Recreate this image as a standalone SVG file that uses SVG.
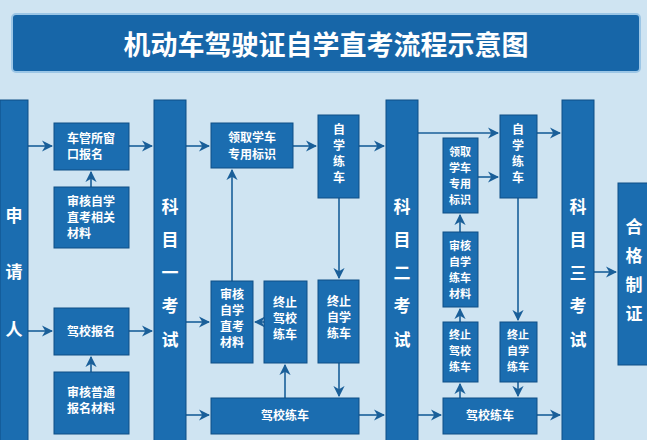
<svg xmlns="http://www.w3.org/2000/svg" width="647" height="440" viewBox="0 0 647 440">
<defs>
<style>
.b{fill:#1b6db0;stroke:#0f4f86;stroke-width:1}
.t{fill:#fff;font-family:"Noto Sans CJK SC",sans-serif;font-weight:bold;font-size:12px;text-anchor:middle}
.s{fill:#fff;font-family:"Noto Sans CJK SC",sans-serif;font-weight:bold;font-size:11px;text-anchor:middle}
.v{fill:#fff;font-family:"Noto Sans CJK SC",sans-serif;font-weight:bold;font-size:17px;text-anchor:middle}
#c path{stroke:#1a5f99;stroke-width:1.6;fill:none;marker-end:url(#a)}
</style>
<marker id="a" viewBox="0 0 10 10" refX="9" refY="5" markerWidth="7" markerHeight="7" orient="auto"><path d="M0,0L10,5L0,10L3,5Z" fill="#1a5f99"/></marker>
</defs>
<rect width="647" height="440" fill="#cfe4f2"/>
<g id="title"><rect x="12" y="14" width="628" height="58" rx="4" fill="#1766a8" stroke="#9cc6e6" stroke-width="2"/>
<text x="326" y="55" fill="#fff" font-family="Noto Sans CJK SC,sans-serif" font-weight="bold" font-size="27" text-anchor="middle">机动车驾驶证自学直考流程示意图</text></g>
<g id="c">
<path d="M28,146H52"/><path d="M129,146H152"/><path d="M28,331H52"/><path d="M129,331H152"/>
<path d="M91,187V172"/><path d="M91,372V357"/>
<path d="M186,146H209"/><path d="M293,146H316"/><path d="M359,146H384"/>
<path d="M186,322H209"/><path d="M232,281V170"/><path d="M264,322H255"/><path d="M285,398V365"/>
<path d="M186,415H209"/><path d="M339,198V278"/><path d="M339,363V396"/><path d="M359,415H384"/>
<path d="M418,133H498"/><path d="M478,177H498"/><path d="M460,232V215"/><path d="M460,322V309"/><path d="M460,398V384"/>
<path d="M418,415H441"/><path d="M537,133H560"/><path d="M518,198V320"/><path d="M518,382V396"/><path d="M537,415H560"/>
<path d="M594,272H616"/>
</g>
<g id="n1"><rect class="b" x="0" y="100" width="28" height="345"/><text class="v" x="14" y="222">申</text><text class="v" x="14" y="278">请</text><text class="v" x="14" y="336">人</text></g>
<g id="n2"><rect class="b" x="54" y="123" width="75" height="47"/><text class="t" x="91" y="143">车管所窗</text><text class="t" x="85" y="159">口报名</text></g>
<g id="n3"><rect class="b" x="54" y="187" width="75" height="61"/><text class="t" x="91" y="206">审核自学</text><text class="t" x="91" y="222">直考相关</text><text class="t" x="79" y="238">材料</text></g>
<g id="n4"><rect class="b" x="54" y="308" width="75" height="47"/><text class="t" x="91" y="336">驾校报名</text></g>
<g id="n5"><rect class="b" x="54" y="372" width="75" height="62"/><text class="t" x="91" y="397">审核普通</text><text class="t" x="91" y="413">报名材料</text></g>
<g id="n6"><rect class="b" x="154" y="100" width="32" height="345"/><text class="v" x="170" y="213">科</text><text class="v" x="170" y="246">目</text><text class="v" x="170" y="279">一</text><text class="v" x="170" y="312">考</text><text class="v" x="170" y="346">试</text></g>
<g id="n7"><rect class="b" x="211" y="123" width="82" height="45"/><text class="t" x="252" y="142">领取学车</text><text class="t" x="252" y="159">专用标识</text></g>
<g id="n8"><rect class="b" x="211" y="281" width="42" height="82"/><text class="t" x="232" y="299">审核</text><text class="t" x="232" y="315">自学</text><text class="t" x="232" y="331">直考</text><text class="t" x="232" y="347">材料</text></g>
<g id="n9"><rect class="b" x="264" y="281" width="43" height="82"/><text class="t" x="285" y="307">终止</text><text class="t" x="285" y="323">驾校</text><text class="t" x="285" y="339">练车</text></g>
<g id="n10"><rect class="b" x="318" y="115" width="41" height="83"/><text class="t" x="339" y="134">自</text><text class="t" x="339" y="150">学</text><text class="t" x="339" y="166">练</text><text class="t" x="339" y="182">车</text></g>
<g id="n11"><rect class="b" x="318" y="280" width="41" height="83"/><text class="t" x="339" y="306">终止</text><text class="t" x="339" y="322">自学</text><text class="t" x="339" y="338">练车</text></g>
<g id="n12"><rect class="b" x="211" y="398" width="148" height="36"/><text class="t" x="285" y="420">驾校练车</text></g>
<g id="n13"><rect class="b" x="386" y="100" width="32" height="345"/><text class="v" x="402" y="213">科</text><text class="v" x="402" y="246">目</text><text class="v" x="402" y="279">二</text><text class="v" x="402" y="312">考</text><text class="v" x="402" y="346">试</text></g>
<g id="n14"><rect class="b" x="443" y="138" width="35" height="75"/><text class="s" x="460" y="156">领取</text><text class="s" x="460" y="172">学车</text><text class="s" x="460" y="188">专用</text><text class="s" x="460" y="204">标识</text></g>
<g id="n15"><rect class="b" x="443" y="232" width="35" height="75"/><text class="s" x="460" y="250">审核</text><text class="s" x="460" y="266">自学</text><text class="s" x="460" y="282">练车</text><text class="s" x="460" y="298">材料</text></g>
<g id="n16"><rect class="b" x="443" y="322" width="35" height="60"/><text class="s" x="460" y="339">终止</text><text class="s" x="460" y="355">驾校</text><text class="s" x="460" y="371">练车</text></g>
<g id="n17"><rect class="b" x="500" y="115" width="37" height="83"/><text class="t" x="518" y="134">自</text><text class="t" x="518" y="150">学</text><text class="t" x="518" y="166">练</text><text class="t" x="518" y="182">车</text></g>
<g id="n18"><rect class="b" x="500" y="322" width="37" height="60"/><text class="s" x="518" y="339">终止</text><text class="s" x="518" y="355">自学</text><text class="s" x="518" y="371">练车</text></g>
<g id="n19"><rect class="b" x="443" y="398" width="94" height="36"/><text class="t" x="490" y="420">驾校练车</text></g>
<g id="n20"><rect class="b" x="562" y="100" width="32" height="345"/><text class="v" x="578" y="213">科</text><text class="v" x="578" y="246">目</text><text class="v" x="578" y="279">三</text><text class="v" x="578" y="312">考</text><text class="v" x="578" y="346">试</text></g>
<g id="n21"><rect class="b" x="618" y="183" width="35" height="182"/><text class="v" x="634" y="233">合</text><text class="v" x="634" y="262">格</text><text class="v" x="634" y="291">制</text><text class="v" x="634" y="320">证</text></g>
</svg>
